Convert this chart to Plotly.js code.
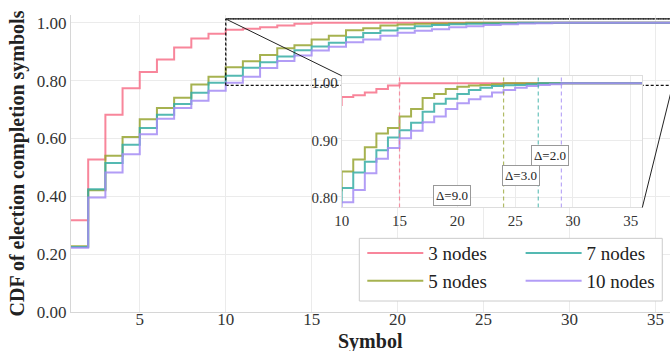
<!DOCTYPE html>
<html>
<head>
<meta charset="utf-8">
<script src="https://cdn.plot.ly/plotly-3.0.1.min.js"></script>
<style>html,body{margin:0;padding:0;background:#fff;}#chart{width:670px;height:351px;}</style>
</head>
<body>
<div id="chart"></div>
<script>
// ---- data ----
const symbols = [1,2,3,4,5,6,7,8,9,10,11,12,13,14,15,16,17,18,19,20,21,22,23,24,25,26,27,28,29,30,31,32,33,34,35,36];
const seriesNames = ['3 nodes', '5 nodes', '7 nodes', '10 nodes'];
const cdf3 = [0.317,0.527,0.682,0.773,0.830,0.873,0.914,0.945,0.962,0.976,0.979,0.984,0.990,0.996,1.0,1.0,1.0,1.0,1.0,1.0,1.0,1.0,1.0,1.0,1.0,1.0,1.0,1.0,1.0,1.0,1.0,1.0,1.0,1.0,1.0,1.0];
const cdf5 = [0.227,0.421,0.540,0.605,0.666,0.705,0.741,0.786,0.813,0.846,0.867,0.888,0.912,0.922,0.942,0.955,0.974,0.981,0.990,0.994,0.996,0.997,0.998,1.0,1.0,1.0,1.0,1.0,1.0,1.0,1.0,1.0,1.0,1.0,1.0,1.0];
const cdf7 = [0.225,0.424,0.515,0.578,0.636,0.682,0.719,0.758,0.792,0.817,0.844,0.863,0.883,0.905,0.918,0.931,0.950,0.964,0.973,0.981,0.988,0.992,0.995,0.9965,0.997,0.998,1.0,1.0,1.0,1.0,1.0,1.0,1.0,1.0,1.0,1.0];
const cdf10 = [0.222,0.396,0.482,0.545,0.614,0.668,0.705,0.730,0.765,0.792,0.8135,0.843,0.868,0.887,0.904,0.917,0.932,0.942,0.955,0.965,0.972,0.977,0.984,0.988,0.992,0.995,0.997,0.998,1.0,1.0,1.0,1.0,1.0,1.0,1.0,1.0];
const allSeries = [cdf3, cdf5, cdf7, cdf10];
const xTicks = [5,10,15,20,25,30,35];
const yTicks = [0,0.2,0.4,0.6,0.8,1.0];
const insetXTicks = [10,15,20,25,30,35];
const insetYTicks = [0.8,0.9,1.0];
const deltaLabelY = [0.804, 0.839, 0.874];
const xTitle = 'Symbol';
const yTitle = 'CDF of election completion symbols';

// ---- styling ----
const colors = ['#f77189', '#97a431', '#36ada4', '#a48cf4'];
const dashColors = ['rgba(247,113,137,0.75)', 'rgba(151,164,49,0.75)', 'rgba(54,173,164,0.75)', 'rgba(164,140,244,0.75)'];
const FONT = 'Liberation Serif, Times New Roman, serif';
const mainX = [1, 35.85], mainY = [0, 1.0266];
const insetX = [10, 36], insetY = [0.783, 1.013];
const insetDomX = [0.4519, 0.9538], insetDomY = [0.3519, 0.7954];

const traces = [];
allSeries.forEach((ys, i) => {
  traces.push({x: symbols, y: ys, type: 'scatter', mode: 'lines', line: {shape: 'hv', color: colors[i], width: 2},
    opacity: 0.85, name: seriesNames[i], xaxis: 'x', yaxis: 'y', legend: i < 2 ? 'legend' : 'legend2',
    showlegend: true, hoverinfo: 'skip'});
});
allSeries.forEach((ys, i) => {
  traces.push({x: symbols, y: ys, type: 'scatter', mode: 'lines', line: {shape: 'hv', color: colors[i], width: 2},
    opacity: 0.85, showlegend: false, xaxis: 'x2', yaxis: 'y2', hoverinfo: 'skip'});
});

// completion points (first symbol where CDF reaches 1)
const done = allSeries.map(ys => symbols[ys.findIndex(v => v >= 1)]);

const boxLine = {color: '#111', width: 1.2, dash: '3px,2px'};
const shapes = [];
// zoom box on main chart (below the inset subplot)
shapes.push({type: 'rect', xref: 'x', yref: 'y', x0: insetX[0], x1: insetX[1], y0: insetY[0], y1: insetY[1],
  line: boxLine, fillcolor: 'rgba(0,0,0,0)', layer: 'below'});
// left and top edges again, above the traces/grid
shapes.push({type: 'line', xref: 'x', yref: 'y', x0: insetX[0], x1: insetX[0], y0: insetY[0], y1: insetY[1], line: boxLine, layer: 'above'});
shapes.push({type: 'line', xref: 'x', yref: 'y', x0: insetX[0], x1: insetX[1], y0: insetY[1], y1: insetY[1], line: boxLine, layer: 'above'});
// inset white background (inside inset subplot)
shapes.push({type: 'rect', xref: 'x2', yref: 'y2', x0: insetX[0], x1: insetX[1], y0: insetY[0], y1: insetY[1],
  fillcolor: 'white', line: {width: 0}, layer: 'below'});
// dashed vertical completion lines in inset
done.forEach((d, i) => {
  shapes.push({type: 'line', xref: 'x2', yref: 'y2', x0: d, x1: d, y0: insetY[0], y1: insetY[1],
    line: {color: dashColors[i], width: 1.2, dash: '4px,3px'}, layer: 'above'});
});
// connector lines (paper coords derived from axis ranges)
const px = v => (v - mainX[0]) / (mainX[1] - mainX[0]);
const py = v => (v - mainY[0]) / (mainY[1] - mainY[0]);
shapes.push({type: 'line', xref: 'paper', yref: 'paper', x0: px(insetX[0]), y0: py(insetY[1]), x1: insetDomX[0], y1: insetDomY[1],
  line: {color: '#222', width: 1}, layer: 'above'});
shapes.push({type: 'line', xref: 'paper', yref: 'paper', x0: px(insetX[1]), y0: py(insetY[0]), x1: insetDomX[1], y1: insetDomY[0],
  line: {color: '#222', width: 1}, layer: 'above'});
// legend frame
shapes.push({type: 'rect', xref: 'paper', yref: 'paper', x0: 0.4813, x1: 0.9871, y0: 0.037, y1: 0.248,
  fillcolor: 'white', line: {color: '#cccccc', width: 1}, layer: 'above'});

const annotations = [];
for (let i = 0; i < 3; i++) {
  annotations.push({xref: 'x2', yref: 'y2', x: (done[i] + done[i + 1]) / 2, y: deltaLabelY[i],
    text: '\u0394=' + (done[i + 1] - done[i]).toFixed(1), showarrow: false,
    font: {family: FONT, size: 13, color: '#222'}, bgcolor: 'white', bordercolor: '#999', borderwidth: 1, borderpad: 2});
}
// x-axis title (placed lower than the margin allows for an axis title)
annotations.push({xref: 'paper', yref: 'paper', x: 0.5, y: -0.0553, xanchor: 'center', yanchor: 'top',
  text: '<b>' + xTitle + '</b>', showarrow: false, font: {family: FONT, size: 20, color: '#222'}});

const axisCommon = {showgrid: true, gridcolor: '#ebebeb', gridwidth: 1, zeroline: false, ticks: '', showline: true,
  linecolor: '#d6d6d6', linewidth: 1};

const legendCommon = {xanchor: 'left', yanchor: 'top', bgcolor: 'rgba(0,0,0,0)', borderwidth: 0,
  font: {family: FONT, size: 19, color: '#222'}, itemwidth: 56, tracegroupgap: 0};

const layout = {
  width: 670, height: 351,
  margin: {l: 71, r: 0, t: 15, b: 39},
  paper_bgcolor: 'white', plot_bgcolor: 'white',
  font: {family: FONT, color: '#333'},
  xaxis: Object.assign({}, axisCommon, {range: mainX, tickvals: xTicks, ticklabelstandoff: -8,
    tickfont: {family: FONT, size: 17, color: '#333'}}),
  yaxis: Object.assign({}, axisCommon, {range: mainY, tickvals: yTicks, tickformat: '.2f', tickfont: {family: FONT, size: 17, color: '#333'},
    title: {text: '<b>' + yTitle + '</b>', font: {family: FONT, size: 20, color: '#222'}, standoff: 6}}),
  xaxis2: Object.assign({}, axisCommon, {domain: insetDomX, anchor: 'y2', range: insetX, tickvals: insetXTicks, mirror: true,
    linecolor: '#dddddd', tickfont: {family: FONT, size: 15, color: '#333'}}),
  yaxis2: Object.assign({}, axisCommon, {domain: insetDomY, anchor: 'x2', range: insetY, tickvals: insetYTicks, tickformat: '.2f', mirror: true,
    linecolor: '#dddddd', tickfont: {family: FONT, size: 15, color: '#333'}}),
  legend: Object.assign({}, legendCommon, {x: 0.4863, y: 0.262}),
  legend2: Object.assign({}, legendCommon, {x: 0.7506, y: 0.262}),
  shapes: shapes,
  annotations: annotations,
  showlegend: true
};

Plotly.newPlot('chart', traces, layout, {staticPlot: true, displayModeBar: false});
</script>
</body>
</html>
